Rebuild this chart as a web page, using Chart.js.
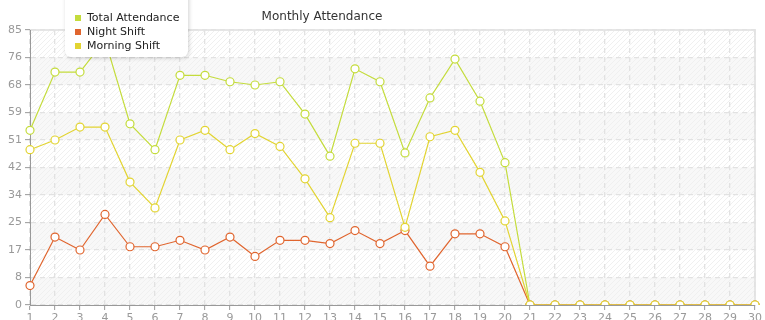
<!DOCTYPE html>
<html>
<head>
<meta charset="utf-8">
<script src="https://cdn.jsdelivr.net/npm/chart.js@4/dist/chart.umd.min.js"></script>
<style>
    html, body { margin: 0; padding: 0; background: #fff; }
    #wrap { width: 765px; height: 320px; }
</style>
</head>
<body>
<div id="wrap"><canvas id="canvas" width="765" height="320"></canvas></div>
<script>
var days = [];
for (var d = 1; d <= 30; d++) { days.push(String(d)); }

var totalAttendance = [54, 72, 72, 82, 56, 48, 71, 71, 69, 68, 69, 59, 46, 73, 69, 47, 64, 76, 63, 44, 0, 0, 0, 0, 0, 0, 0, 0, 0, 0];
var nightShift      = [6, 21, 17, 28, 18, 18, 20, 17, 21, 15, 20, 20, 19, 23, 19, 23, 12, 22, 22, 18, 0, 0, 0, 0, 0, 0, 0, 0, 0, 0];
var morningShift    = [48, 51, 55, 55, 38, 30, 51, 54, 48, 53, 49, 39, 27, 50, 50, 24, 52, 54, 41, 26, 0, 0, 0, 0, 0, 0, 0, 0, 0, 0];

var seriesNames  = ['Total Attendance', 'Night Shift', 'Morning Shift'];
var seriesColors = ['#c4dc3c', '#e0652e', '#e2d432'];

var FONT = '"DejaVu Sans", Verdana, sans-serif';

// hatched background pattern
function makeHatch(bg) {
    var c = document.createElement('canvas');
    c.width = 5; c.height = 5;
    var g = c.getContext('2d');
    g.fillStyle = bg;
    g.fillRect(0, 0, 5, 5);
    g.strokeStyle = '#f0f0f0';
    g.lineWidth = 1;
    g.beginPath();
    g.moveTo(-1, 6); g.lineTo(6, -1);
    g.moveTo(-3, 3); g.lineTo(3, -3);
    g.moveTo(2, 8); g.lineTo(8, 2);
    g.stroke();
    return c;
}

var bgPlugin = {
    id: 'bgPlugin',
    beforeDraw: function (chart) {
        var ctx = chart.ctx, a = chart.chartArea, y = chart.scales.y;
        ctx.save();
        ctx.fillStyle = ctx.createPattern(makeHatch('#ffffff'), 'repeat');
        ctx.fillRect(a.left, a.top, a.right - a.left, a.bottom - a.top);
        var ticks = y.ticks;
        ctx.fillStyle = ctx.createPattern(makeHatch('#f8f8f8'), 'repeat');
        for (var i = ticks.length - 2; i > 0; i -= 2) {
            var yTop = y.getPixelForValue(ticks[i].value);
            var yBot = y.getPixelForValue(ticks[i - 1].value);
            ctx.fillRect(a.left, yTop, a.right - a.left, yBot - yTop);
        }
        // frame top/right
        ctx.strokeStyle = '#e6e6e6';
        ctx.lineWidth = 2;
        ctx.beginPath();
        ctx.moveTo(a.left, a.top);
        ctx.lineTo(a.right, a.top);
        ctx.lineTo(a.right, a.bottom);
        ctx.stroke();
        ctx.restore();
    },
    afterDraw: function (chart) {
        var ctx = chart.ctx;
        ctx.save();
        // title
        ctx.font = '12px ' + FONT;
        ctx.fillStyle = '#333333';
        ctx.textAlign = 'center';
        ctx.textBaseline = 'middle';
        ctx.fillText('Monthly Attendance', 322, 17);

        // legend box
        ctx.shadowColor = 'rgba(0,0,0,0.18)';
        ctx.shadowBlur = 4;
        ctx.shadowOffsetX = 1;
        ctx.shadowOffsetY = 1;
        ctx.fillStyle = '#ffffff';
        ctx.beginPath();
        ctx.roundRect(65, -10, 123, 67, 6);
        ctx.fill();
        ctx.shadowColor = 'transparent';
        ctx.font = '11px ' + FONT;
        ctx.textAlign = 'left';
        chart.data.datasets.forEach(function (ds, i) {
            var yy = 18 + i * 14;
            ctx.fillStyle = seriesColors[i];
            ctx.fillRect(75, yy - 3, 6, 6);
            ctx.fillStyle = '#222222';
            ctx.fillText(ds.label, 87, yy);
        });
        ctx.restore();
    }
};

function series(i, data, order) {
    return {
        label: seriesNames[i],
        data: data,
        borderColor: seriesColors[i],
        backgroundColor: '#ffffff',
        pointBackgroundColor: '#ffffff',
        pointBorderColor: seriesColors[i],
        pointRadius: 4,
        pointBorderWidth: 1.2,
        borderWidth: 1.2,
        tension: 0,
        fill: false,
        order: order
    };
}

var ctx = document.getElementById('canvas').getContext('2d');
var myChart = new Chart(ctx, {
    type: 'line',
    data: {
        labels: days,
        datasets: [
            series(0, totalAttendance, 2),
            series(1, nightShift, 1),
            series(2, morningShift, 0)
        ]
    },
    options: {
        responsive: false,
        animation: false,
        layout: { padding: { top: 30, right: 10, left: 0, bottom: 0 } },
        plugins: {
            legend: { display: false },
            title: { display: false },
            tooltip: { enabled: false }
        },
        scales: {
            x: {
                offset: false,
                grid: {
                    color: '#e2e2e2',
                    lineWidth: 1.3,
                    tickColor: '#999999',
                    tickLength: 5,
                    tickBorderDash: [],
                    tickWidth: 1
                },
                border: { color: '#999999', width: 1, dash: [5, 4] },
                ticks: {
                    color: '#999999',
                    font: { family: FONT, size: 11 },
                    padding: 2,
                    maxRotation: 0,
                    autoSkip: false
                },
                afterFit: function (s) { s.height = 15; }
            },
            y: {
                min: 0,
                max: 85,
                grid: {
                    color: '#e2e2e2',
                    lineWidth: 1.3,
                    tickColor: '#999999',
                    tickLength: 5,
                    tickBorderDash: [],
                    tickWidth: 1
                },
                border: { color: '#999999', width: 1, dash: [5, 4] },
                ticks: {
                    stepSize: 8.5,
                    color: '#999999',
                    font: { family: FONT, size: 11 },
                    padding: 3,
                    callback: function (v) { return Math.floor(v); }
                },
                afterFit: function (s) { s.width = 30; }
            }
        }
    },
    plugins: [bgPlugin]
});
</script>
</body>
</html>
